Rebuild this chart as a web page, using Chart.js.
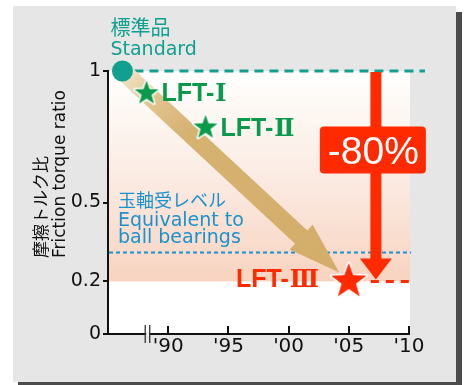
<!DOCTYPE html>
<html>
<head>
<meta charset="utf-8">
<script src="https://cdn.jsdelivr.net/npm/chart.js@4/dist/chart.umd.min.js"></script>
<style>
  html, body { margin: 0; padding: 0; background: #fff; }
  #wrap { width: 466px; height: 385px; }
</style>
</head>
<body>
<div id="wrap"><canvas id="c" width="466" height="385"></canvas></div>
<script>
// ---- data ----
const productNames = ['標準品', 'LFT-Ⅰ', 'LFT-Ⅱ', 'LFT-Ⅲ'];
const productYears = [1986.2, 1988.2, 1993.1, 2005];
const torqueRatios = [1, 0.915, 0.785, 0.2];
const yTickValues = [0, 0.2, 0.5, 1];
const xTickYears = [1990, 1995, 2000, 2005, 2010];
const xTickLabels = ["'90", "'95", "'00", "'05", "'10"];
const ballBearingLevel = [0.31];
const reductionPercent = [-80];
const reductionYear = [2007.25];
const axisBreakYear = [1988.3];

// ---- colours ----
const TEAL = '#11a08f';
const GREEN = '#0b9a4b';
const RED = '#ff2a00';
const BLUE = '#1a92cd';
const TAN = '#d3ad69';

const LATIN = '"DejaVu Sans", sans-serif';
const CJK = '"Noto Sans CJK JP", sans-serif';

function starPath(g, cx, cy, R, r) {
  g.beginPath();
  for (let i = 0; i < 10; i++) {
    const a = -Math.PI / 2 + i * Math.PI / 5;
    const rad = i % 2 ? r : R;
    const px = cx + rad * Math.cos(a), py = cy + rad * Math.sin(a);
    if (i) g.lineTo(px, py); else g.moveTo(px, py);
  }
  g.closePath();
}

function makeStar(color, R) {
  const s = Math.ceil(2 * R + 6);
  const c = document.createElement('canvas');
  c.width = c.height = s;
  const g = c.getContext('2d');
  starPath(g, s / 2, s / 2, R, R * 0.41);
  g.lineJoin = 'round';
  g.lineWidth = 3;
  g.strokeStyle = '#fff';
  g.stroke();
  g.fillStyle = color;
  g.fill();
  return c;
}

const greenStar = makeStar(GREEN, 12.7);
const redStar = makeStar(RED, 18.5);

function roundRect(g, x, y, w, h, r) {
  g.beginPath();
  g.moveTo(x + r, y);
  g.lineTo(x + w - r, y);
  g.quadraticCurveTo(x + w, y, x + w, y + r);
  g.lineTo(x + w, y + h - r);
  g.quadraticCurveTo(x + w, y + h, x + w - r, y + h);
  g.lineTo(x + r, y + h);
  g.quadraticCurveTo(x, y + h, x, y + h - r);
  g.lineTo(x, y + r);
  g.quadraticCurveTo(x, y, x + r, y);
  g.closePath();
}

// Product label: Latin prefix plus a slab-serif Roman numeral.
const PREFIX_FONT = 'bold 25px "Liberation Sans", sans-serif';
const NUMERAL_FONT = 'bold 24px "DejaVu Serif", serif';
function drawProductLabel(g, name, x, baseline, align) {
  const prefix = name.slice(0, -1), numeral = name.slice(-1);
  g.textAlign = 'left';
  g.textBaseline = 'alphabetic';
  g.font = PREFIX_FONT;
  const pw = g.measureText(prefix).width;
  g.font = NUMERAL_FONT;
  const m = g.measureText(numeral);
  const inkL = -m.actualBoundingBoxLeft, inkR = m.actualBoundingBoxRight;
  const gap = 2;
  const total = pw + gap + (inkR - inkL);
  const x0 = align === 'right' ? x - total : x;
  g.font = PREFIX_FONT;
  g.fillText(prefix, x0, baseline);
  g.font = NUMERAL_FONT;
  g.fillText(numeral, x0 + pw + gap - inkL, baseline);
}

const decor = {
  id: 'decor',
  beforeDraw(chart) {
    const g = chart.ctx, a = chart.chartArea, ys = chart.scales.y;
    g.save();
    g.fillStyle = '#fff';
    g.fillRect(0, 0, chart.width, chart.height);
    // drop shadow and panel
    g.fillStyle = '#4b4b4b';
    g.fillRect(456, 12, 6, 373);
    g.fillRect(18, 382, 444, 3);
    g.fillStyle = '#e6e6e6';
    g.fillRect(13, 6, 443, 376);
    // plot background
    g.fillStyle = '#fff';
    g.fillRect(a.left, a.top, a.right - a.left + 1, a.bottom - a.top);
    // shaded band down to the LFT-Ⅲ level
    const yb = ys.getPixelForValue(torqueRatios[3]);
    const grad = g.createLinearGradient(0, a.top, 0, yb);
    grad.addColorStop(0, '#ffffff');
    grad.addColorStop(0.08, '#fefcf9');
    grad.addColorStop(0.5, '#fbebe3');
    grad.addColorStop(1, '#f8d3c0');
    g.fillStyle = grad;
    g.fillRect(a.left, a.top, a.right - a.left + 1, yb - a.top);
    g.restore();
  },
  beforeDatasetsDraw(chart) {
    const g = chart.ctx, a = chart.chartArea, ys = chart.scales.y;
    g.save();
    // ball bearing level
    const yBall = ys.getPixelForValue(ballBearingLevel[0]);
    g.strokeStyle = BLUE;
    g.lineWidth = 2;
    g.setLineDash([4, 3]);
    g.beginPath();
    g.moveTo(a.left + 1, yBall);
    g.lineTo(a.right + 2, yBall);
    g.stroke();

    // standard level
    const p0 = chart.getDatasetMeta(0).data[0];
    g.strokeStyle = TEAL;
    g.lineWidth = 3;
    g.setLineDash([9, 6]);
    g.beginPath();
    g.moveTo(p0.x + 12, p0.y);
    g.lineTo(425, p0.y);
    g.stroke();

    // LFT-Ⅲ level
    const p3 = chart.getDatasetMeta(2).data[0];
    g.strokeStyle = RED;
    g.setLineDash([8, 7]);
    g.beginPath();
    g.moveTo(p3.x + 22, p3.y);
    g.lineTo(a.right + 3, p3.y);
    g.stroke();
    g.setLineDash([]);

    // progress arrow from standard to LFT-Ⅲ
    const dx = p3.x - p0.x, dy = p3.y - p0.y, len = Math.hypot(dx, dy);
    const ux = dx / len, uy = dy / len, nx = -uy, ny = ux;
    const tip = { x: p3.x - ux * 13, y: p3.y - uy * 13 };
    const headLen = 52, hw = 9, hh = 17;
    const base = { x: tip.x - ux * headLen, y: tip.y - uy * headLen };
    const ag = g.createLinearGradient(p0.x, p0.y, tip.x, tip.y);
    ag.addColorStop(0, '#f3e6cc');
    ag.addColorStop(0.13, '#e2c691');
    ag.addColorStop(0.3, '#d6b272');
    ag.addColorStop(1, TAN);
    g.fillStyle = ag;
    g.beginPath();
    g.moveTo(p0.x + nx * hw, p0.y + ny * hw);
    g.lineTo(base.x + nx * hw, base.y + ny * hw);
    g.lineTo(base.x + nx * hh, base.y + ny * hh);
    g.lineTo(tip.x, tip.y);
    g.lineTo(base.x - nx * hh, base.y - ny * hh);
    g.lineTo(base.x - nx * hw, base.y - ny * hw);
    g.lineTo(p0.x - nx * hw, p0.y - ny * hw);
    g.closePath();
    g.fill();
    g.restore();
  },
  afterDatasetsDraw(chart) {
    const g = chart.ctx, a = chart.chartArea, xs = chart.scales.x, ys = chart.scales.y;
    const p0 = chart.getDatasetMeta(0).data[0];
    const p1 = chart.getDatasetMeta(1).data[0];
    const p2 = chart.getDatasetMeta(1).data[1];
    const p3 = chart.getDatasetMeta(2).data[0];
    g.save();

    // reduction arrow
    const rx = xs.getPixelForValue(reductionYear[0]);
    const yFrom = ys.getPixelForValue(torqueRatios[0]) + 1;
    const yTo = ys.getPixelForValue(torqueRatios[0] * (1 + reductionPercent[0] / 100)) - 2;
    g.fillStyle = RED;
    g.fillRect(rx - 5.5, yFrom, 11, yTo - yFrom - 20);
    g.beginPath();
    g.moveTo(rx - 16, yTo - 21);
    g.lineTo(rx + 16, yTo - 21);
    g.lineTo(rx, yTo);
    g.closePath();
    g.fill();

    // reduction label
    const bx = rx - 3, by = ys.getPixelForValue(0.7);
    roundRect(g, bx - 53, by - 23.5, 106, 47, 4);
    g.fill();
    g.fillStyle = '#fff';
    g.font = '39px "Liberation Sans", sans-serif';
    g.textAlign = 'center';
    g.textBaseline = 'alphabetic';
    g.fillText(reductionPercent[0] + '%', bx + 0.5, by + 14);

    // product labels
    g.textAlign = 'left';
    g.fillStyle = TEAL;
    g.font = '20px ' + CJK;
    g.textBaseline = 'middle';
    g.fillText(productNames[0], p0.x - 12, p0.y - 44);
    g.font = '19px ' + LATIN;
    g.textBaseline = 'alphabetic';
    g.fillText('Standard', p0.x - 12, p0.y - 16);

    g.fillStyle = GREEN;
    drawProductLabel(g, productNames[1], p1.x + 15, p1.y + 8, 'left');
    drawProductLabel(g, productNames[2], p2.x + 15, p2.y + 8.5, 'left');
    g.fillStyle = RED;
    drawProductLabel(g, productNames[3], p3.x - 30, p3.y + 6, 'right');

    // ball bearing caption
    g.textAlign = 'left';
    g.fillStyle = BLUE;
    const tx = a.left + 10;
    g.font = '18px ' + CJK;
    g.textBaseline = 'middle';
    g.fillText('玉軸受レベル', tx, 200);
    g.font = '19px ' + LATIN;
    g.textBaseline = 'alphabetic';
    g.fillText('Equivalent to', tx, 226);
    g.fillText('ball bearings', tx, 243);

    // y axis title
    g.fillStyle = '#111';
    g.save();
    g.translate(40.5, 258);
    g.rotate(-Math.PI / 2);
    g.font = '17px ' + CJK;
    g.textBaseline = 'middle';
    g.fillText('摩擦トルク比', 0, 0);
    g.restore();
    g.save();
    g.translate(65, 258);
    g.rotate(-Math.PI / 2);
    g.font = '17px ' + LATIN;
    g.textBaseline = 'alphabetic';
    g.fillText('Friction torque ratio', 0, 0);
    g.restore();

    // axis break mark
    const kx = xs.getPixelForValue(axisBreakYear[0]);
    g.fillStyle = '#f2f2f2';
    g.fillRect(kx - 1.5, a.bottom - 2, 3, 4);
    g.strokeStyle = '#333';
    g.lineWidth = 1.3;
    g.beginPath();
    g.moveTo(kx - 2.5, a.bottom - 9);
    g.lineTo(kx - 2.5, a.bottom + 9);
    g.moveTo(kx + 2, a.bottom - 9);
    g.lineTo(kx + 2, a.bottom + 9);
    g.stroke();
    g.restore();
  }
};

new Chart(document.getElementById('c'), {
  type: 'scatter',
  data: {
    datasets: [
      {
        data: [{ x: productYears[0], y: torqueRatios[0] }],
        pointStyle: 'circle',
        pointRadius: 10.5,
        backgroundColor: TEAL,
        borderWidth: 0,
        clip: false
      },
      {
        data: [1, 2].map(i => ({ x: productYears[i], y: torqueRatios[i] })),
        pointStyle: greenStar,
        clip: false
      },
      {
        data: [{ x: productYears[3], y: torqueRatios[3] }],
        pointStyle: redStar,
        clip: false
      }
    ]
  },
  options: {
    responsive: false,
    animation: false,
    devicePixelRatio: 1,
    layout: { padding: { left: 0, top: 71, right: 57, bottom: 0 } },
    plugins: { legend: { display: false }, tooltip: { enabled: false } },
    scales: {
      x: {
        type: 'linear',
        min: 1985,
        max: 2010,
        afterFit: s => { s.height = 51; },
        afterBuildTicks: s => { s.ticks = xTickYears.map(v => ({ value: v })); },
        ticks: {
          callback: (v, i) => xTickLabels[i],
          font: { family: 'DejaVu Sans', size: 20 },
          color: '#111',
          padding: 9,
          autoSkip: false,
          maxRotation: 0
        },
        grid: { drawOnChartArea: false, drawTicks: true, tickLength: -8, color: '#111', lineWidth: 2 },
        border: { color: '#111', width: 2 }
      },
      y: {
        min: 0,
        max: 1,
        afterFit: s => { s.width = 108; },
        afterBuildTicks: s => { s.ticks = yTickValues.map(v => ({ value: v })); },
        ticks: {
          callback: v => String(v),
          font: { family: 'DejaVu Sans', size: 19 },
          color: '#111',
          padding: 2
        },
        grid: { drawOnChartArea: false, drawTicks: true, tickLength: 5, color: '#111', lineWidth: 2 },
        border: { color: '#111', width: 2 }
      }
    }
  },
  plugins: [decor]
});
</script>
</body>
</html>
